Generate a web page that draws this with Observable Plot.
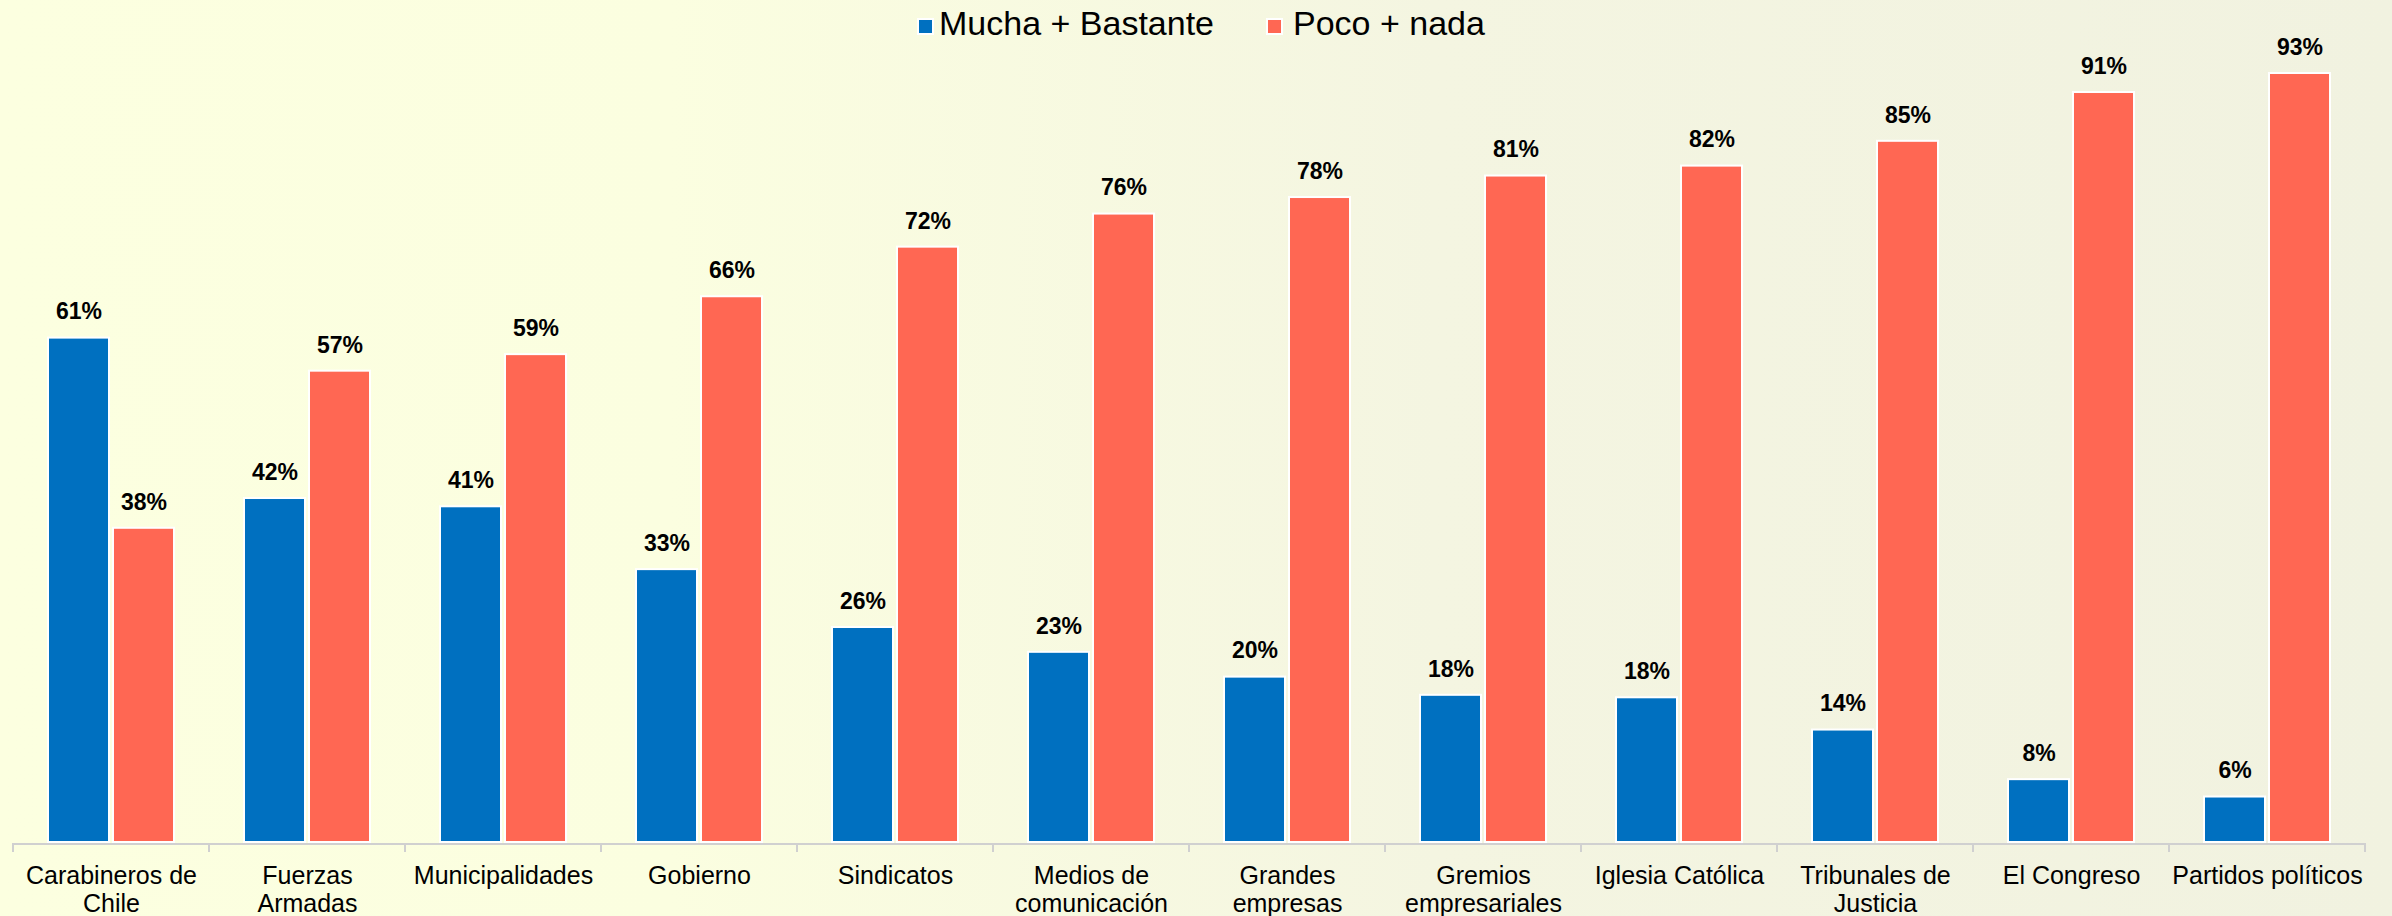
<!DOCTYPE html>
<html>
<head>
<meta charset="utf-8">
<script src="https://cdn.jsdelivr.net/npm/d3@7"></script>
<script src="https://cdn.jsdelivr.net/npm/@observablehq/plot@0.6"></script>
<style>
html, body { margin: 0; padding: 0; }
body {
  width: 2392px; height: 916px; overflow: hidden;
  background: linear-gradient(90deg, #FCFFE0 0%, #FBFEE0 28%, #F4F5E1 60%, #F1F2E0 100%);
  font-family: Arial, "Liberation Sans", sans-serif;
}
#legend { position: relative; height: 40px; }
.sw { position: absolute; top: 18px; width: 13px; height: 13px; border: 2px solid #fff; }
.lt { position: absolute; top: 6px; font-size: 34px; line-height: 34px; color: #000; white-space: nowrap; }
#chart svg { display: block; }
</style>
</head>
<body>
<div id="legend"></div>
<div id="chart"></div>
<script>
const categories = ["Carabineros de Chile", "Fuerzas Armadas", "Municipalidades", "Gobierno", "Sindicatos", "Medios de comunicación", "Grandes empresas", "Gremios empresariales", "Iglesia Católica", "Tribunales de Justicia", "El Congreso", "Partidos políticos"];
const tickLabels = ["Carabineros de\nChile", "Fuerzas\nArmadas", "Municipalidades", "Gobierno", "Sindicatos", "Medios de\ncomunicación", "Grandes\nempresas", "Gremios\nempresariales", "Iglesia Católica", "Tribunales de\nJusticia", "El Congreso", "Partidos políticos"];
const series = ["Mucha + Bastante", "Poco + nada"];
const colors = ["#0070C0", "#FF6753"];
const mucha = [61, 41.6, 40.6, 33, 26, 23, 20, 17.8, 17.5, 13.6, 7.6, 5.5];
const poco = [38, 57, 59, 66, 72, 76, 78, 80.6, 81.8, 84.8, 90.7, 93];

// legend (HTML, above the SVG)
const legend = d3.select("#legend");
const swLeft = [917, 1266], txtLeft = [939, 1293];
series.forEach((s, i) => {
  legend.append("div").attr("class", "sw").style("left", swLeft[i] + "px").style("background", colors[i]);
  legend.append("div").attr("class", "lt").style("left", txtLeft[i] + "px").text(s);
});

const blue = categories.map((c, i) => ({cat: c, s: series[0], v: mucha[i]}));
const red = categories.map((c, i) => ({cat: c, s: series[1], v: poco[i]}));
const all = blue.concat(red);
const fmt = d => Math.round(d.v) + "%";

const separators = (index, scales) => {
  const x = scales.x, y0 = scales.y(0) + 1;
  const edges = categories.map(c => x(c)).concat([x(categories[categories.length - 1]) + x.bandwidth()]);
  const g = d3.create("svg:g");
  g.selectAll("line").data(edges).join("line")
    .attr("x1", d => d).attr("x2", d => d)
    .attr("y1", y0).attr("y2", y0 + 9)
    .attr("stroke", "#d0d0d0").attr("stroke-width", 2);
  return g.node();
};

const chart = Plot.plot({
  width: 2392,
  height: 876,
  marginLeft: 12,
  marginRight: 27,
  marginTop: 33,
  marginBottom: 74,
  style: {background: "transparent", fontFamily: "Arial, 'Liberation Sans', sans-serif", color: "#000", fontSize: "25px", overflow: "visible"},
  x: {domain: categories, padding: 0, axis: null, label: null},
  y: {domain: [0, d3.max(all, d => d.v)], axis: null},
  color: {domain: series, range: colors},
  marks: [
    Plot.ruleY([0], {stroke: "#d0d0d0", strokeWidth: 2, dy: 1.5}),
    separators,
    Plot.barY(blue, {x: "cat", y: "v", fill: "s", stroke: "#fff", strokeWidth: 2, insetLeft: 35, insetRight: 100}),
    Plot.barY(red, {x: "cat", y: "v", fill: "s", stroke: "#fff", strokeWidth: 2, insetLeft: 100, insetRight: 35}),
    Plot.text(blue, {x: "cat", y: "v", text: fmt, dx: -32.5, dy: -26, fontWeight: "bold", fontSize: 23, fill: "#000"}),
    Plot.text(red, {x: "cat", y: "v", text: fmt, dx: 32.5, dy: -26, fontWeight: "bold", fontSize: 23, fill: "#000"}),
    Plot.axisX({label: null, tickSize: 0, tickPadding: 22, fontSize: 25, lineHeight: 1.12, fill: "#000",
      tickFormat: d => tickLabels[categories.indexOf(d)]})
  ]
});
document.getElementById("chart").appendChild(chart);
</script>
</body>
</html>
